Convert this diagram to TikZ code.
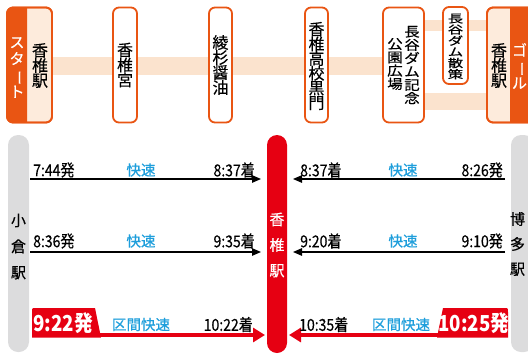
\documentclass[tikz,border=0pt]{standalone}
\usepackage{fontspec}
\usepackage{graphicx}
\usetikzlibrary{arrows.meta}
\newfontfamily\jp{Noto Sans CJK JP}[FakeBold=0.35]
\newfontfamily\jpt{Noto Sans CJK JP}[FakeStretch=0.85, FakeBold=0.35]
\newfontfamily\jpn{Noto Sans CJK JP}[FakeStretch=0.85]
\definecolor{orj}{HTML}{E95513}
\definecolor{peach}{HTML}{FBE3CE}
\definecolor{cream}{HTML}{FDEBDC}
\definecolor{jrred}{HTML}{E60012}
\definecolor{jblue}{HTML}{1E9EDB}
\definecolor{bargrey}{HTML}{DCDCDD}
\newcommand\vbar{\smash{\rotatebox[origin=c]{-90}{ー}}}
\newcommand\vstack[4]{\scalebox{1}[#1]{\parbox{30pt}{\centering\jp\fontsize{#2}{#3}\selectfont\lineskiplimit=-50pt #4}}}
\tikzset{
  box/.style={draw=orj, line width=1.8pt, rounded corners=6pt},
  vt/.style={inner sep=0pt},
  tm/.style={inner sep=0pt, font=\jpt\fontsize{16.5}{18}\selectfont},
  kind/.style={inner sep=0pt, text=jblue, font=\jp\fontsize{14.5}{16}\selectfont},
  badge/.style={inner sep=0pt, text=white, font=\jpn\bfseries\fontsize{22}{24}\selectfont},
  blk/.style={line width=1.2pt, -{Triangle[length=9pt,width=7.5pt]}},
  redarr/.style={draw=jrred, line width=4pt, -{Triangle[length=12pt,width=14pt]}},
}
\begin{document}
\begin{tikzpicture}[x=1pt,y=-1pt]
\useasboundingbox (0,0) rectangle (528,354);
\clip (0,0) rectangle (528,354);

% ---- route bands
\fill[peach] (45,57) rectangle (395,75);
\fill[peach] (420,20) rectangle (495,31);
\fill[peach] (420,93) rectangle (495,110);

% ---- start box
\filldraw[box, fill=cream] (7,7.5) rectangle (52,122.5);
\begin{scope}
  \clip (0,0) rectangle (27,130);
  \fill[orj, rounded corners=6pt] (7,7.5) rectangle (52,122.5);
\end{scope}
\draw[box] (7,7.5) rectangle (52,122.5);

% ---- stops
\filldraw[box, fill=white] (113,7.5) rectangle (137,122.5);
\filldraw[box, fill=white] (209,7.5) rectangle (232,122.5);
\filldraw[box, fill=white] (305,7.5) rectangle (328,122.5);
\filldraw[box, fill=white] (383,7.5) rectangle (424,122.5);
\filldraw[box, fill=white] (443,7) rectangle (468,84);

% ---- goal box
\filldraw[box, fill=cream] (487,7.5) rectangle (545,122.5);
\begin{scope}
  \clip (510,0) rectangle (560,130);
  \fill[orj, rounded corners=6pt] (487,7.5) rectangle (545,122.5);
\end{scope}
\draw[box] (487,7.5) rectangle (545,122.5);

% ---- top texts
\node[vt, text=white] (start) at (17,67.5) {\vstack{1}{15}{16.5}{ス\\タ\\\vbar\\ト}};
\node[vt] (s0) at (40,65.5) {\vstack{1}{16}{15}{香\\椎\\駅}};
\node[vt] (s1) at (125,65) {\vstack{1}{16}{15}{香\\椎\\宮}};
\node[vt] (s2) at (220.5,65) {\vstack{1}{16}{15}{綾\\杉\\醤\\油}};
\node[vt] (s3) at (316.5,66) {\vstack{1}{16}{14.7}{香\\椎\\高\\校\\黒\\門}};
\node[vt] (s4a) at (412,65) {\vstack{0.86}{15.5}{15.5}{長\\谷\\ダ\\ム\\記\\念}};
\node[vt] (s4b) at (395,64) {\vstack{0.86}{15.5}{15.5}{公\\園\\広\\場}};
\node[vt] (s5) at (455.5,46.5) {\vstack{0.72}{15.5}{15.5}{長\\谷\\ダ\\ム\\散\\策}};
\node[vt] (s6) at (499,65.5) {\vstack{1}{16}{15}{香\\椎\\駅}};
\node[vt, text=white] (goal) at (519.5,66) {\vstack{1}{15}{16.3}{ゴ\\\vbar\\ル}};

% ---- bottom bars
\fill[bargrey, rounded corners=10pt] (8,135) rectangle (29,352);
\fill[bargrey, rounded corners=10pt] (511,135) rectangle (534,352);
\fill[jrred, rounded corners=10pt] (267,135) rectangle (287,353);

\node[vt] (kokura) at (18.5,246.5) {\vstack{1}{15}{26}{小\\倉\\駅}};
\node[vt] (hakata) at (517.5,244) {\vstack{1}{15}{25}{博\\多\\駅}};
\node[vt, text=white] (kashii) at (277,245) {\vstack{1}{15}{25.5}{香\\椎\\駅}};

% ---- row 1
\coordinate (r1a) at (30,179);  \coordinate (r1b) at (261,179);
\coordinate (r1c) at (505,179); \coordinate (r1d) at (293,179);
\draw[blk] (r1a) -- (r1b);
\draw[blk] (r1c) -- (r1d);
\node[tm, anchor=west] (d1) at (33,170) {7:44発};
\node[kind] (k1) at (141,170) {快速};
\node[tm, anchor=east] (a1) at (255,170) {8:37着};
\node[tm, anchor=west] (a2) at (300,170) {8:37着};
\node[kind] (k2) at (403,170) {快速};
\node[tm, anchor=east] (d2) at (503,170) {8:26発};

% ---- row 2
\coordinate (r2a) at (30,252);  \coordinate (r2b) at (261,252);
\coordinate (r2c) at (505,252); \coordinate (r2d) at (293,252);
\draw[blk] (r2a) -- (r2b);
\draw[blk] (r2c) -- (r2d);
\node[tm, anchor=west] (d3) at (33,241) {8:36発};
\node[kind] (k3) at (141,241) {快速};
\node[tm, anchor=east] (a3) at (255,241) {9:35着};
\node[tm, anchor=west] (a4) at (300,241) {9:20着};
\node[kind] (k4) at (403,241) {快速};
\node[tm, anchor=east] (d4) at (503,241) {9:10発};

% ---- row 3 (red)
\fill[jrred] (32,337.5) -- (32,312) .. controls (32,308) .. (36,308) -- (95,308) -- (101,337.5) -- cycle;
\fill[jrred] (508,337.5) -- (508,312) .. controls (508,308) .. (504,308) -- (443,308) -- (437,337.5) -- cycle;
\coordinate (r3a) at (95,335);  \coordinate (r3b) at (265,335);
\coordinate (r3c) at (445,335); \coordinate (r3d) at (289,335);
\draw[redarr] (r3a) -- (r3b);
\draw[redarr] (r3c) -- (r3d);
\node[badge] (d5) at (63,323) {9:22発};
\node[kind] (k5) at (141,324.5) {区間快速};
\node[tm, anchor=east] (a5) at (253,324.5) {10:22着};
\node[tm, anchor=west] (a6) at (299,324.5) {10:35着};
\node[kind] (k6) at (401,324.5) {区間快速};
\node[badge] (d6) at (474,323) {10:25発};
\end{tikzpicture}
\end{document}
